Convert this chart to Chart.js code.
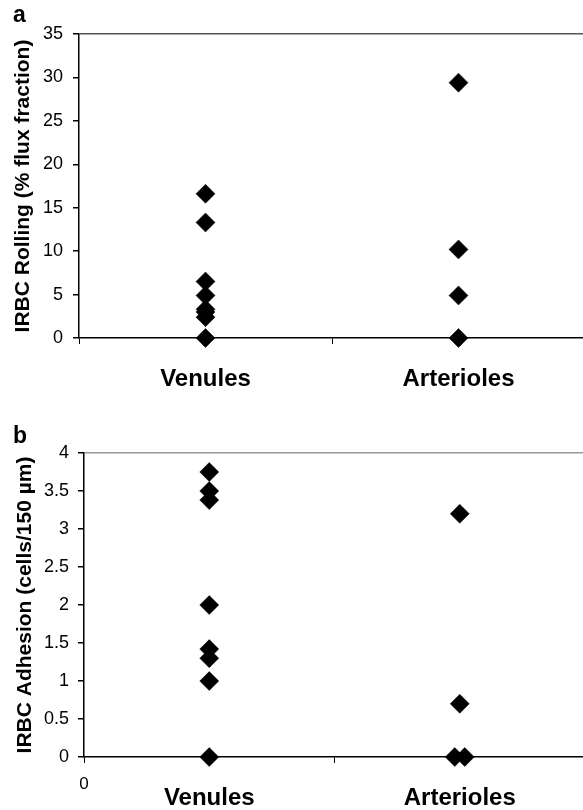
<!DOCTYPE html>
<html><head><meta charset="utf-8">
<script src="https://cdn.jsdelivr.net/npm/chart.js@4"></script>
<style>
html,body{margin:0;padding:0;background:#fff;overflow:hidden;width:583px;height:810px;}
.wrap{position:absolute;left:0;width:596px;}
#wa{top:0;height:400px;} #wb{top:400px;height:410px;}
canvas{display:block;}
</style></head><body>
<div class="wrap" id="wa"><canvas id="ca" width="596" height="400"></canvas></div>
<div class="wrap" id="wb"><canvas id="cb" width="596" height="410"></canvas></div>
<script>
// ---- data ----
const categories = ['Venules', 'Arterioles'];
const categoryX = [1, 3];
const venulesRolling = [16.6, 13.3, 6.5, 4.9, 3.3, 3.0, 2.4, 0];
const arteriolesRolling = [29.4, 10.2, 4.9, 0];
const venulesAdhesion = [3.75, 3.5, 3.38, 2.0, 1.42, 1.3, 1.0, 0];
const arteriolesAdhesion = [3.2, 0.7, 0, 0];
const arteriolesAdhesionX = [3, 3, 2.96, 3.04];
const rollingTicks = [0, 5, 10, 15, 20, 25, 30, 35];
const adhesionTicks = [0, 0.5, 1, 1.5, 2, 2.5, 3, 3.5, 4];
const xTickValues = [0, 2, 4];
const xTickLabelsA = ['', '', ''];
const xTickLabelsB = ['0', '', ''];

Chart.defaults.font.family = "'Liberation Sans', Arial, sans-serif";
Chart.defaults.color = '#000';

function pts(vals, xs, cx) {
  return vals.map((v, i) => ({x: xs ? xs[i] : cx, y: v}));
}

function makeChart(id, cfg) {
  const labelPlugin = {
    id: 'labels_' + id,
    afterDraw(chart) {
      const ctx = chart.ctx;
      const xs = chart.scales.x;
      ctx.save();
      ctx.fillStyle = '#000';
      ctx.font = "bold 24px 'Liberation Sans', Arial, sans-serif";
      ctx.textAlign = 'center';
      ctx.textBaseline = 'alphabetic';
      categories.forEach((c, i) => {
        ctx.fillText(c, xs.getPixelForValue(categoryX[i]), chart.chartArea.bottom + 48);
      });
      ctx.textAlign = 'left';
      ctx.font = "bold 23px 'Liberation Sans', Arial, sans-serif";
      ctx.fillText(cfg.panel, 13, cfg.panelY);
      ctx.restore();
    }
  };
  const ds = (data) => ({
    data, pointStyle: 'rectRot', pointRadius: 9.5, pointBorderWidth: 0.5,
    backgroundColor: '#000', borderColor: '#000', showLine: false, clip: false
  });
  return new Chart(document.getElementById(id), {
    type: 'scatter',
    data: {datasets: [ds(cfg.venules), ds(cfg.arterioles)]},
    options: {
      responsive: false, animation: false,
      layout: {padding: {top: cfg.top, right: cfg.right, left: 0, bottom: 0}},
      plugins: {legend: {display: false}, tooltip: {enabled: false}},
      scales: {
        x: {
          type: 'linear', min: 0, max: 4,
          afterFit(s) { s.height = cfg.xh; },
          afterBuildTicks(s) { s.ticks = xTickValues.map(v => ({value: v})); },
          ticks: {
            padding: 11, font: {size: 17},
            callback: (v, i) => cfg.xLabels[i]
          },
          grid: {drawOnChartArea: false, drawTicks: true, tickLength: 6, color: '#000', lineWidth: 1},
          border: {display: true, color: '#000', width: 1.5}
        },
        y: {
          type: 'linear', min: 0, max: cfg.max,
          afterFit(s) { s.width = cfg.yw; },
          afterBuildTicks(s) { s.ticks = cfg.yTicks.map(v => ({value: v})); },
          ticks: {padding: cfg.yPad, font: {size: 18}, color: '#000', callback: (v) => String(v)},
          grid: {
            drawOnChartArea: true, drawTicks: true, tickLength: 6,
            color: (c) => (c.tick && c.tick.value === cfg.max) ? cfg.topColor : 'rgba(0,0,0,0)',
            tickColor: '#000', lineWidth: 1.5
          },
          border: {display: true, color: '#000', width: 1.5},
          title: {
            display: true, text: cfg.title, color: '#000',
            font: {size: 21, weight: 'bold'}, padding: {top: cfg.titlePad, bottom: 0}
          }
        }
      }
    },
    plugins: [labelPlugin]
  });
}

makeChart('ca', {
  panel: 'a', panelY: 22, top: 34, right: 5, xh: 62, yw: 79, yPad: 10, titlePad: 11,
  max: 35, yTicks: rollingTicks, xLabels: xTickLabelsA, topColor: '#555',
  title: 'IRBC Rolling (% flux fraction)',
  venules: pts(venulesRolling, null, categoryX[0]),
  arterioles: pts(arteriolesRolling, null, categoryX[1])
});

makeChart('cb', {
  panel: 'b', panelY: 43, top: 53, right: 4, xh: 53, yw: 84, yPad: 9, titlePad: 13,
  max: 4, yTicks: adhesionTicks, xLabels: xTickLabelsB, topColor: '#999',
  title: 'IRBC Adhesion (cells/150 \u00b5m)',
  venules: pts(venulesAdhesion, null, categoryX[0]),
  arterioles: pts(arteriolesAdhesion, arteriolesAdhesionX)
});
</script>
</body></html>
